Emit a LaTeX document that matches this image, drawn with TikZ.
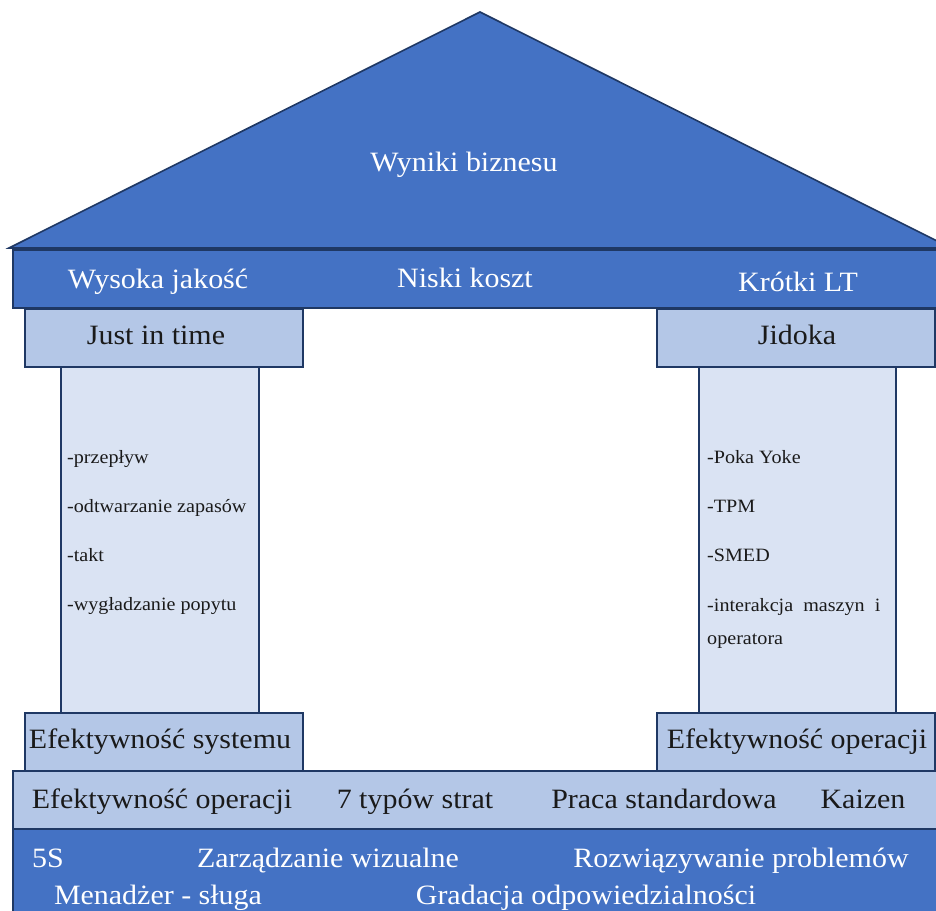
\documentclass[tikz,border=0pt]{standalone}
\usepackage{fontspec}
\setmainfont{Liberation Serif}[FakeStretch=1.07]
\definecolor{dblue}{HTML}{4472C4}
\definecolor{mblue}{HTML}{B4C7E7}
\definecolor{lblue}{HTML}{DAE3F3}
\definecolor{edge}{HTML}{1F3864}
\definecolor{ink}{HTML}{1A1A1A}
\begin{document}
\begin{tikzpicture}[x=1pt,y=-1pt,
  outl/.style={draw=edge, line width=1.6pt, line join=miter},
  darkpart/.style={outl, fill=dblue},
  midpart/.style={outl, fill=mblue},
  lightpart/.style={outl, fill=lblue},
  boxnode/.style={rectangle, inner sep=0pt, anchor=north west},
  bigw/.style={text=white, font=\fontsize{28}{34}\selectfont, inner sep=0pt},
  bigk/.style={text=ink, font=\fontsize{28}{34}\selectfont, inner sep=0pt},
  itemk/.style={text=ink, font=\fontsize{18.8}{23}\selectfont, inner sep=0pt, anchor=base west}]
\useasboundingbox (0,0) rectangle (936,910);
\fill[white] (0,0) rectangle (936,910);
\begin{scope}
\clip (0,0) rectangle (936,910);

% roof
\draw[darkpart] (9,248) -- (480,12) -- (951,248) -- cycle;
\node[bigw, anchor=base] (roof) at (464,171) {Wyniki biznesu};

% beam with goals
\node[boxnode, darkpart, minimum width=940pt, minimum height=58pt] (beam) at (12,249) {};
\node[bigw, anchor=base] (g1) at (158,288) {Wysoka jakość};
\node[bigw, anchor=base] (g2) at (465,287) {Niski koszt};
\node[bigw, anchor=base] (g3) at (798,291) {Krótki LT};

% columns
\node[boxnode, lightpart, minimum width=198pt, minimum height=350pt] (colL) at (60,364) {};
\node[boxnode, lightpart, minimum width=197pt, minimum height=350pt] (colR) at (698,364) {};

% capitals
\node[boxnode, midpart, minimum width=278pt, minimum height=58pt] (capL) at (24,308) {};
\node[bigk, anchor=base] (capLt) at (156,344) {Just in time};
\node[boxnode, midpart, minimum width=278pt, minimum height=58pt] (capR) at (656,308) {};
\node[bigk, anchor=base] (capRt) at (797,344) {Jidoka};

% column contents
\node[itemk] (l1) at (67,463) {-przepływ};
\node[itemk] (l2) at (67,512) {-odtwarzanie zapasów};
\node[itemk] (l3) at (67,561) {-takt};
\node[itemk] (l4) at (67,610) {-wygładzanie popytu};
\node[itemk] (r1) at (707,463) {-Poka Yoke};
\node[itemk] (r2) at (707,512) {-TPM};
\node[itemk] (r3) at (707,561) {-SMED};
\node[itemk] (r4) at (707,611) {-interakcja\ \ maszyn\ \ i};
\node[itemk] (r5) at (707,644) {operatora};

% bases
\node[boxnode, midpart, minimum width=278pt, minimum height=58pt] (baseL) at (24,712) {};
\node[bigk, anchor=base] (baseLt) at (160,748) {Efektywność systemu};
\node[boxnode, midpart, minimum width=278pt, minimum height=58pt] (baseR) at (656,712) {};
\node[bigk, anchor=base] (baseRt) at (797,748) {Efektywność operacji};

% foundation
\node[boxnode, midpart, minimum width=940pt, minimum height=58pt] (step1) at (12,770) {};
\node[bigk, anchor=base] (f1) at (162,808) {Efektywność operacji};
\node[bigk, anchor=base] (f2) at (415,808) {7 typów strat};
\node[bigk, anchor=base] (f3) at (664,808) {Praca standardowa};
\node[bigk, anchor=base] (f4) at (863,808) {Kaizen};

\node[boxnode, darkpart, minimum width=940pt, minimum height=100pt] (step2) at (12,828) {};
\node[bigw, anchor=base] (b1) at (48,867) {5S};
\node[bigw, anchor=base] (b2) at (328,867) {Zarządzanie wizualne};
\node[bigw, anchor=base] (b3) at (741,867) {Rozwiązywanie problemów};
\node[bigw, anchor=base] (b4) at (158,904) {Menadżer - sługa};
\node[bigw, anchor=base] (b5) at (586,904) {Gradacja odpowiedzialności};
\end{scope}
\end{tikzpicture}
\end{document}
